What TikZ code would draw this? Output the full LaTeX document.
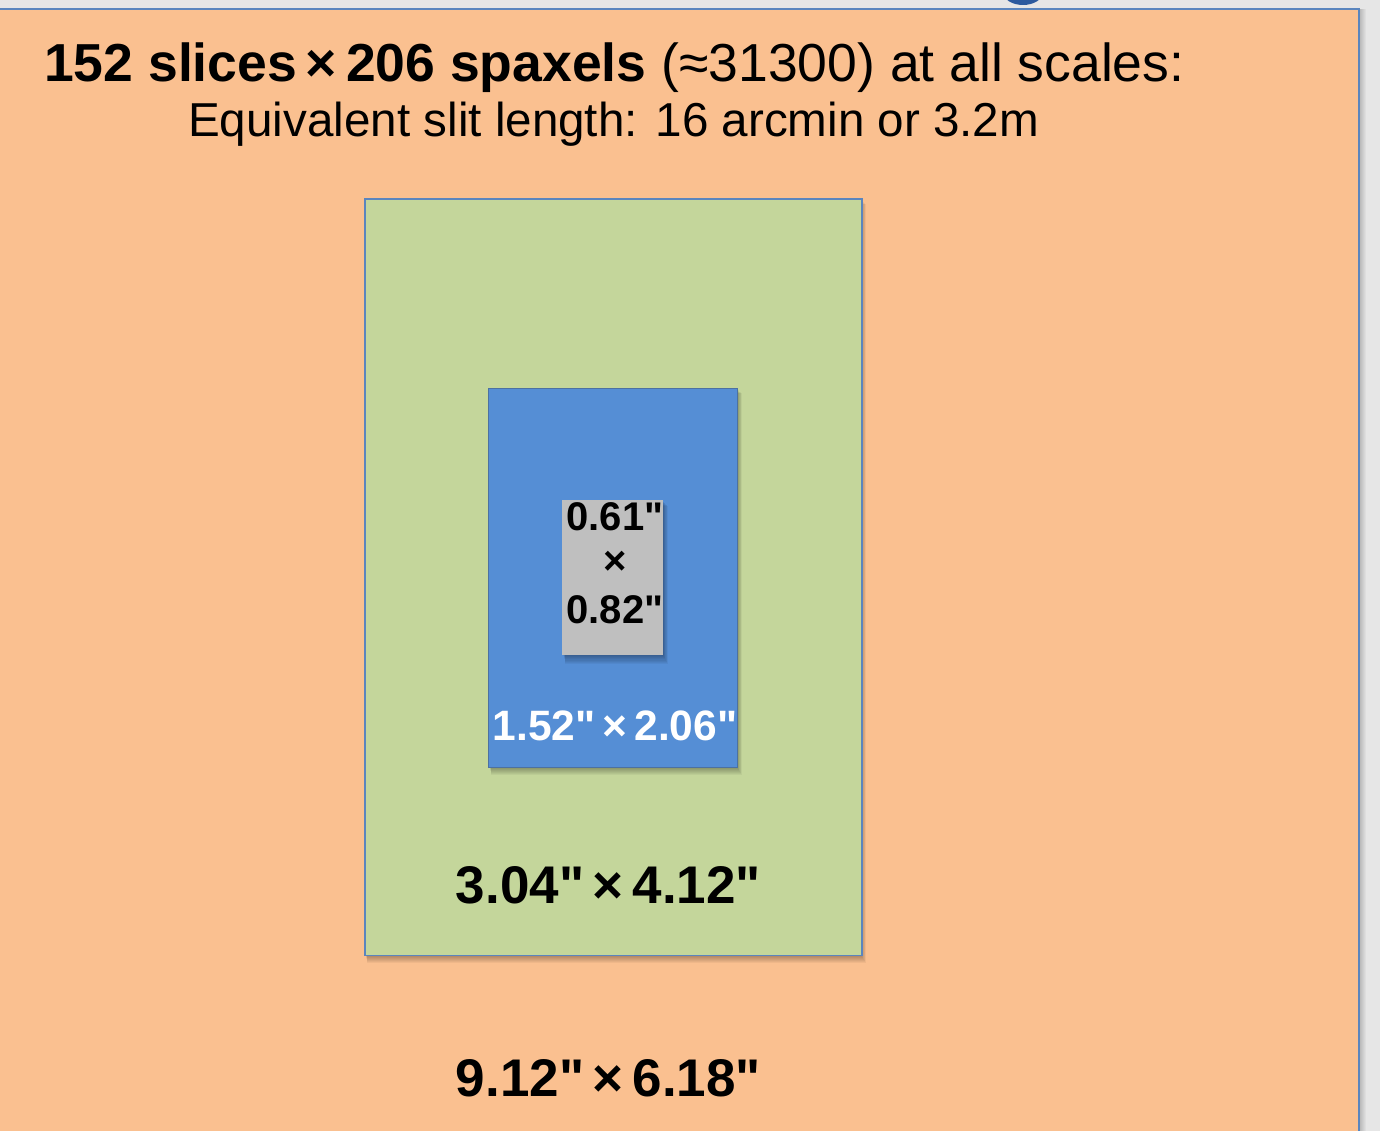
\documentclass[tikz,border=0pt]{standalone}
\usepackage{fontspec}
\setmainfont{Liberation Sans}[Ligatures=TeXOff]
\definecolor{bgray}{HTML}{E6E6E6}
\definecolor{orfill}{HTML}{FAC090}
\definecolor{edgeblue}{HTML}{5A85BE}
\definecolor{grfill}{HTML}{C4D69B}
\definecolor{blfill}{HTML}{558ED5}
\definecolor{gyfill}{HTML}{BFBFBF}
\definecolor{blob}{HTML}{2C5A9E}
\tikzset{
  bigtxt/.style={font=\fontsize{53.5}{60}\selectfont, inner sep=0pt},
  subtxt/.style={font=\fontsize{47.6}{55}\selectfont, inner sep=0pt},
  boldtxt/.style={font=\fontsize{53}{60}\selectfont\bfseries, inner sep=0pt},
  midtxt/.style={font=\fontsize{42.5}{50}\selectfont\bfseries, inner sep=0pt},
  smalltxt/.style={font=\fontsize{40}{44}\selectfont\bfseries, inner sep=0pt},
}
\newcommand\softshadow[4]{% x1,y1,x2,y2
  \foreach \i in {1,...,8}{
    \fill[black,opacity=0.045] (#1+1+0.3*\i,#2+1+0.6*\i) rectangle (#3+0.6*\i,#4+1.1*\i);
  }}
\begin{document}
\begin{tikzpicture}[x=1pt,y=-1pt]
\useasboundingbox (0,0) rectangle (1380,1131);
\fill[bgray] (0,0) rectangle (1380,1131);
% soft shadow of orange field at right
\foreach \i in {1,...,6}{\fill[black,opacity=0.03] (1359,9) rectangle (1360+\i,1140);}
% blob at top
\fill[blob] (1023,-8) ellipse (20 and 13);
% orange field
\fill[orfill] (-5,9.5) rectangle (1359,1140);
\draw[edgeblue,line width=2pt] (-5,9.5) -- (1359,9.5) -- (1359,1140);
% green box
\softshadow{364}{198.5}{861}{954.5}
\node[draw=edgeblue, line width=1.6pt, fill=grfill, minimum width=497pt, minimum height=756pt, inner sep=0pt, anchor=north west] (green) at (364,198.5) {};
% blue box
\softshadow{488}{387.5}{737}{766.5}
\node[draw=edgeblue!85!black, line width=0.8pt, fill=blfill, minimum width=249pt, minimum height=379pt, inner sep=0pt, anchor=north west] (blue) at (488,387.5) {};
% gray box
\softshadow{562}{500}{663}{655}
\node[fill=gyfill, minimum width=101pt, minimum height=155pt, inner sep=0pt, anchor=north west] (gray) at (562,500) {};
% texts
\node[bigtxt, anchor=base west] (title) at (44,82) {\textbf{152 slices\,×\,206 spaxels} (≈31300) at all scales:};
\node[subtxt, anchor=base west] (sub) at (188,137) {Equivalent slit length: 16 arcmin or 3.2m};
\node[smalltxt, anchor=base] (g1) at (615,530) {0.61"};
\node[smalltxt, anchor=base] (g2) at (615,574) {×};
\node[smalltxt, anchor=base] (g3) at (615,623) {0.82"};
\node[midtxt, anchor=base, text=white] (bl) at (615,740) {1.52"\,×\,2.06"};
\node[boldtxt, anchor=base] (gr) at (608.5,903) {3.04"\,×\,4.12"};
\node[boldtxt, anchor=base] (or) at (608.5,1096) {9.12"\,×\,6.18"};
\end{tikzpicture}
\end{document}
